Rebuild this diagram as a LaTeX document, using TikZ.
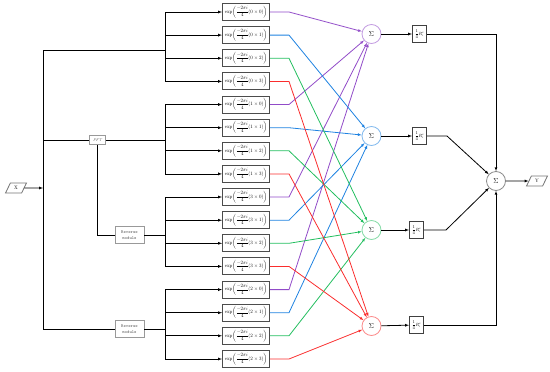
\documentclass[tikz,border=0pt]{standalone}
\usetikzlibrary{positioning,shapes.geometric}

\definecolor{sumpurple}{RGB}{145,75,200}
\definecolor{sumblue}{RGB}{30,130,225}
\definecolor{sumgreen}{RGB}{35,190,95}
\definecolor{sumred}{RGB}{250,45,45}

\newcommand{\expterm}[2]{$\displaystyle\mathrm{exp}\!\left(\frac{-2\pi i}{4}(#1\times#2)\right)$}
\newcommand{\quarterR}{$\displaystyle\frac{1}{4}R_i^c$}

\begin{document}
\begin{tikzpicture}[
  x=2pt, y=-2pt, line width=1.6pt,
  expbox/.style={
    draw=black!70,
    line width=2pt,
    inner xsep=2pt,
    inner ysep=0pt,
    font=\normalsize,
    minimum width=94pt,
    minimum height=34pt,
    fill=white
  },
  module/.style={
    draw=black!40,
    align=center,
    text=black!65,
    inner sep=2pt,
    fill=white
  },
  io/.style={
    draw=black!55,
    trapezium,
    trapezium left angle=65,
    trapezium right angle=115,
    trapezium stretches=true,
    minimum width=42pt,
    minimum height=20pt,
    inner sep=1pt,
    font=\normalsize
  },
  sumnode/.style={circle, draw, minimum size=38pt, inner sep=0pt, font=\Large, fill=white},
  rbox/.style={draw=black!75, line width=2pt, inner sep=1pt,
    minimum width=28pt, minimum height=34pt, font=\small},
  line/.style={draw, -latex},
  purple line/.style={draw=sumpurple, -latex},
  blue line/.style={draw=sumblue, -latex},
  green line/.style={draw=sumgreen, -latex},
  red line/.style={draw=sumred, -latex}
]
\useasboundingbox (0,0) rectangle (550,371);

% input and branches
\node[io] (X) at (16,188) {X};
\coordinate (trunkTop) at (43,50);
\coordinate (trunkMid) at (43,188);
\coordinate (trunkBot) at (43,329);
\coordinate (fftIn) at (43,140);
\coordinate (split0) at (165,50);
\coordinate (split1) at (165,140);
\coordinate (split3) at (165,235);
\coordinate (split2) at (165,329);

\node[module, font=\footnotesize\itshape, minimum width=32pt, minimum height=17pt] (fft) at (97.5,140) {FFT};
\node[module, font=\small\ttfamily, minimum width=58pt, minimum height=33pt] (rev1) at (129.5,235) {Reverse\\module};
\node[module, font=\small\ttfamily, minimum width=58pt, minimum height=33pt] (rev2) at (129.5,329) {Reverse\\module};

% exponential blocks
\node[expbox] (e00) at (246,12.0) {\expterm{0}{0}};
\node[expbox] (e01) at (246,35.1) {\expterm{0}{1}};
\node[expbox] (e02) at (246,58.3) {\expterm{0}{2}};
\node[expbox] (e03) at (246,81.4) {\expterm{0}{3}};
\node[expbox] (e10) at (246,104.5) {\expterm{1}{0}};
\node[expbox] (e11) at (246,127.7) {\expterm{1}{1}};
\node[expbox] (e12) at (246,150.8) {\expterm{1}{2}};
\node[expbox] (e13) at (246,173.9) {\expterm{1}{3}};
\node[expbox] (e30) at (246,197.0) {\expterm{3}{0}};
\node[expbox] (e31) at (246,220.2) {\expterm{3}{1}};
\node[expbox] (e32) at (246,243.3) {\expterm{3}{2}};
\node[expbox] (e33) at (246,266.4) {\expterm{3}{3}};
\node[expbox] (e20) at (246,289.6) {\expterm{2}{0}};
\node[expbox] (e21) at (246,312.7) {\expterm{2}{1}};
\node[expbox] (e22) at (246,335.8) {\expterm{2}{2}};
\node[expbox] (e23) at (246,359.0) {\expterm{2}{3}};

% sums
\node[sumnode, draw=sumpurple!55] (sum0) at (371.5,34) {$\Sigma$};
\node[sumnode, draw=sumblue!55] (sum1) at (371.5,136) {$\Sigma$};
\node[sumnode, draw=sumgreen!55] (sum2) at (371.5,230) {$\Sigma$};
\node[sumnode, draw=sumred!55] (sum3) at (371.5,326) {$\Sigma$};

\node[rbox] (r0) at (419.5,34) {\quarterR};
\node[rbox] (r1) at (419.5,136) {\quarterR};
\node[rbox] (r2) at (416.5,230) {\quarterR};
\node[rbox] (r3) at (416.5,325) {\quarterR};

\node[sumnode, draw=black!45] (sumY) at (496,181) {$\Sigma$};
\node[io] (Y) at (537,181) {Y};
\coordinate (bend1) at (447,136);
\coordinate (bend2) at (446,230);

% left tree
\draw (trunkTop) -- (trunkBot);
\draw[line] (X) -- (trunkMid);
\draw (trunkTop) -- (split0);
\draw (fftIn) -- (fft) -- (split1);
\draw (fft) |- (rev1);
\draw (rev1) -- (split3);
\draw (trunkBot) -- (rev2) -- (split2);

\draw[line] (split0) |- (e00);
\draw[line] (split0) |- (e01);
\draw[line] (split0) |- (e02);
\draw[line] (split0) |- (e03);
\draw[line] (split1) |- (e10);
\draw[line] (split1) |- (e11);
\draw[line] (split1) |- (e12);
\draw[line] (split1) |- (e13);
\draw[line] (split3) |- (e30);
\draw[line] (split3) |- (e31);
\draw[line] (split3) |- (e32);
\draw[line] (split3) |- (e33);
\draw[line] (split2) |- (e20);
\draw[line] (split2) |- (e21);
\draw[line] (split2) |- (e22);
\draw[line] (split2) |- (e23);

% crossing connectors
\draw[purple line] (e00.east) -- ++(19,0) -- (sum0);
\draw[purple line] (e10.east) -- ++(19,0) -- (sum0);
\draw[purple line] (e30.east) -- ++(19,0) -- (sum0);
\draw[purple line] (e20.east) -- ++(19,0) -- (sum0);
\draw[blue line] (e01.east) -- ++(19,0) -- (sum1);
\draw[blue line] (e11.east) -- ++(19,0) -- (sum1);
\draw[blue line] (e31.east) -- ++(19,0) -- (sum1);
\draw[blue line] (e21.east) -- ++(19,0) -- (sum1);
\draw[green line] (e02.east) -- ++(19,0) -- (sum2);
\draw[green line] (e12.east) -- ++(19,0) -- (sum2);
\draw[green line] (e32.east) -- ++(19,0) -- (sum2);
\draw[green line] (e22.east) -- ++(19,0) -- (sum2);
\draw[red line] (e03.east) -- ++(19,0) -- (sum3);
\draw[red line] (e13.east) -- ++(19,0) -- (sum3);
\draw[red line] (e33.east) -- ++(19,0) -- (sum3);
\draw[red line] (e23.east) -- ++(19,0) -- (sum3);

% output side
\draw[line] (sum0) -- (r0);
\draw[line] (sum1) -- (r1);
\draw[line] (sum2) -- (r2);
\draw[line] (sum3) -- (r3);
\draw[line] (r0) -| (sumY);
\draw[line] (r1) -- (bend1) -- (sumY);
\draw[line] (r2) -- (bend2) -- (sumY);
\draw[line] (r3) -| (sumY);
\draw[line] (sumY) -- (Y);
\end{tikzpicture}
\end{document}
